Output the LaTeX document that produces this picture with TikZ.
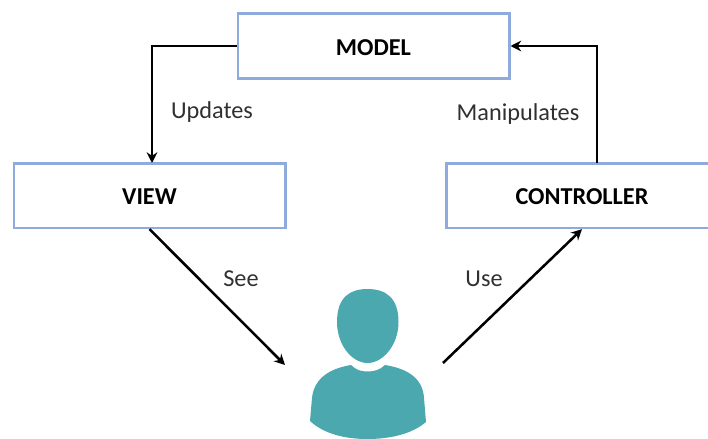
\documentclass[tikz,border=0pt]{standalone}
\usepackage{fontspec}
\setmainfont{Carlito}
\definecolor{boxblue}{HTML}{8FAADC}
\definecolor{userteal}{HTML}{4BA8AE}
\definecolor{labelgray}{HTML}{303030}
\tikzset{
  block/.style={draw=boxblue, line width=2pt, fill=white, minimum width=203.5pt, minimum height=48.5pt, font=\fontsize{18.2}{21}\selectfont\bfseries, text=black, text height=14pt, text depth=0pt, inner sep=0pt},
  flow/.style={draw=black, line width=1.9pt, -{Stealth[length=8pt,width=8pt]}},
  label/.style={font=\fontsize{18.2}{21}\selectfont, text=labelgray, inner sep=0pt},
  userpart/.style={fill=userteal, draw=none}
}
\usetikzlibrary{arrows.meta}
\begin{document}
\begin{tikzpicture}[x=0.75pt, y=-0.75pt]
    \useasboundingbox (0,0) rectangle (708,439);
    \clip (0,0) rectangle (708,439);
    \node[block] at (373.5, 46) (model) {MODEL};
    \node[block] at (149.5, 195.5) (view) {VIEW};
    \node[block] at (582, 195.5) (controller) {CONTROLLER};
    \coordinate (userleft) at (285, 365);
    \coordinate (userright) at (443, 363);
    \coordinate (controllerup) at (597, 163);
    \coordinate (viewin) at (152, 163);
    % user icon
    \path[userpart] (367.5, 289) .. controls (385, 289) and (398.5, 297) .. (398.5, 322)
      .. controls (398.5, 345) and (383, 363) .. (367.5, 363)
      .. controls (352, 363) and (337, 345) .. (337, 322)
      .. controls (337, 297) and (350, 289) .. (367.5, 289) -- cycle;
    \path[userpart] (351, 365) .. controls (356, 370) and (361, 371.5) .. (367.5, 371.5)
      .. controls (374, 371.5) and (380, 370) .. (385, 365)
      .. controls (410, 369) and (423, 380) .. (424, 398)
      -- (426, 422)
      .. controls (412, 434) and (390, 439) .. (367.5, 439)
      .. controls (345, 439) and (324, 434) .. (310, 421)
      -- (312, 398)
      .. controls (314, 380) and (327, 369) .. (351, 365) -- cycle;
    \draw[flow] (model.west) -| (viewin);
    \draw[flow] (controllerup) |- (model.east);
    \draw[flow] (view.south) -- (userleft);
    \draw[flow] (userright) -- (controller.south);
    \node[label] at (212, 112.5) (updates) {Updates};
    \node[label] at (518, 114.5) (manipulates) {Manipulates};
    \node[label] at (241, 279) (see) {See};
    \node[label] at (484, 279) (use) {Use};
\end{tikzpicture}
\end{document}
